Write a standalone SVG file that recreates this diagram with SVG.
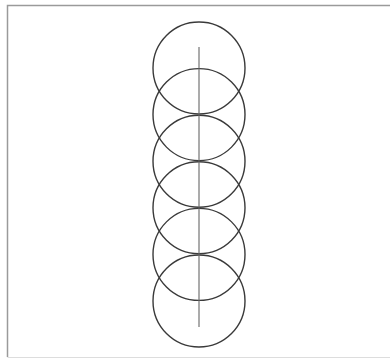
<svg xmlns="http://www.w3.org/2000/svg" width="390" height="359" viewBox="0 0 390 359">
<style>
.frame{fill:none;stroke:#9a9a9a;stroke-width:1.5}
.c{fill:none;stroke:#3a3a3a;stroke-width:1.4}
.axis{stroke:#666;stroke-width:1.1}
</style>
<rect width="390" height="359" fill="#fff"/>
<g id="frame">
<path class="frame" d="M390,5.5 H7.5 V357"/>
<path d="M7.5,357.5 H390" stroke="#ddd" stroke-width="1"/>
</g>
<g id="circles">
<circle id="c1" class="c" cx="199" cy="68" r="46"/>
<circle id="c2" class="c" cx="199" cy="114.6" r="46"/>
<circle id="c3" class="c" cx="199" cy="161.2" r="46"/>
<circle id="c4" class="c" cx="199" cy="207.8" r="46"/>
<circle id="c5" class="c" cx="199" cy="254.4" r="46"/>
<circle id="c6" class="c" cx="199" cy="301" r="46"/>
</g>
<g id="connectors">
<line class="axis" x1="199" y1="47" x2="199" y2="327"/>
</g>
</svg>
